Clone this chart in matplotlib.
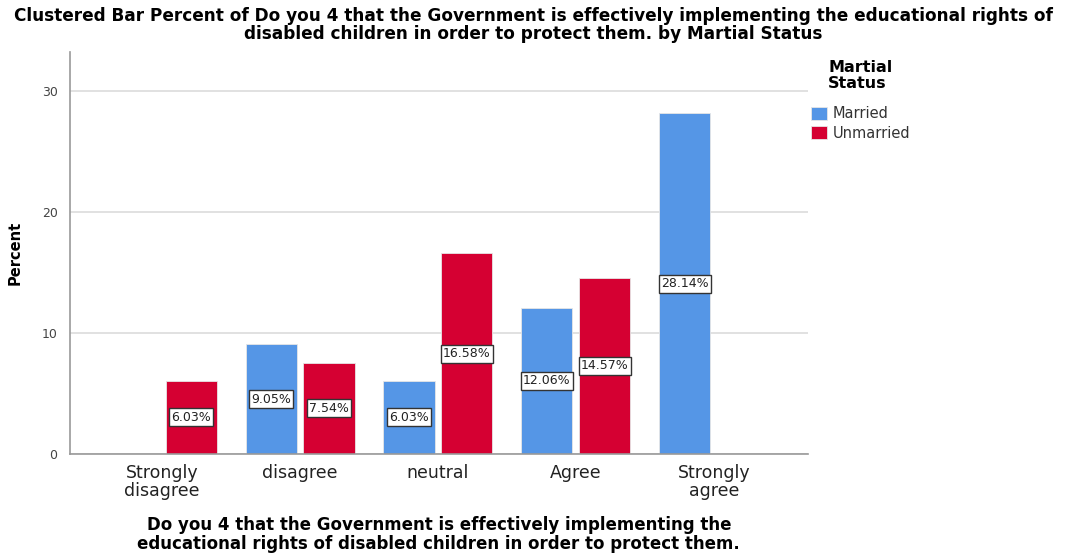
import matplotlib.pyplot as plt
import numpy as np

plt.rcParams['font.family'] = ['DejaVu Sans']

categories = ['Strongly\ndisagree', 'disagree', 'neutral', 'Agree', 'Strongly\nagree']
married = [0, 9.05, 6.03, 12.06, 28.14]
unmarried = [6.03, 7.54, 16.58, 14.57, 0]
series_names = ['Married', 'Unmarried']
colors = ['#5596E6', '#D50032']

fig = plt.figure(figsize=(10.66, 5.58), dpi=100)
ax = fig.add_axes([0.0657, 0.1864, 0.692, 0.7206])

x = np.arange(len(categories))
w = 0.37
off = 0.21
for vals, dx, name, c in [(married, -off, series_names[0], colors[0]),
                          (unmarried, off, series_names[1], colors[1])]:
    bars = ax.bar(x + dx, vals, w, color=c, edgecolor='#e6e6e6', linewidth=0.6, label=name, zorder=2)
    for b, v in zip(bars, vals):
        if v > 0:
            ax.text(b.get_x() + b.get_width() / 2, v / 2, '%.2f%%' % v, ha='center', va='center',
                    fontsize=9, color='#222222', zorder=3,
                    bbox=dict(boxstyle='square,pad=0.2', fc='white', ec='#333333', lw=1.0))

ax.set_xlim(-0.667, 4.68)
ax.set_ylim(0, 33.2)
ax.set_yticks([0, 10, 20, 30])
ax.set_xticks(x)
ax.set_xticklabels(categories, fontsize=12.5, color='#222222', linespacing=1.0)
ax.tick_params(axis='y', labelsize=9, colors='#444444', length=0, pad=9)
ax.tick_params(axis='x', length=0, pad=7)
ax.grid(axis='y', color='#dcdcdc', linewidth=1.2, zorder=0)
for s in ['top', 'right']:
    ax.spines[s].set_visible(False)
for s in ['left', 'bottom']:
    ax.spines[s].set_color('#999999')
    ax.spines[s].set_linewidth(1.2)

ax.set_ylabel('Percent', fontsize=10.5, fontweight='bold', labelpad=14)
ax.set_xlabel('Do you 4 that the Government is effectively implementing the\n'
              'educational rights of disabled children in order to protect them.',
              fontsize=12, fontweight='bold', linespacing=1.05, labelpad=12)
fig.suptitle('Clustered Bar Percent of Do you 4 that the Government is effectively implementing the educational rights of\n'
             'disabled children in order to protect them. by Martial Status',
             fontsize=12.2, fontweight='bold', y=0.988, linespacing=1.05)

fig.text(828 / 1066, 1 - 60 / 558, 'Martial\nStatus', fontsize=11.5, fontweight='bold',
         va='top', ha='left', linespacing=1.1)
leg = ax.legend(loc='upper left', bbox_to_anchor=(798 / 1066, 1 - 93 / 558),
                bbox_transform=fig.transFigure,
                frameon=False, fontsize=10.5, handlelength=1.1, handleheight=1.0,
                handletextpad=0.4, labelspacing=0.3)
for t in leg.get_texts():
    t.set_color('#333333')

fig.savefig('out.png', dpi=100)
